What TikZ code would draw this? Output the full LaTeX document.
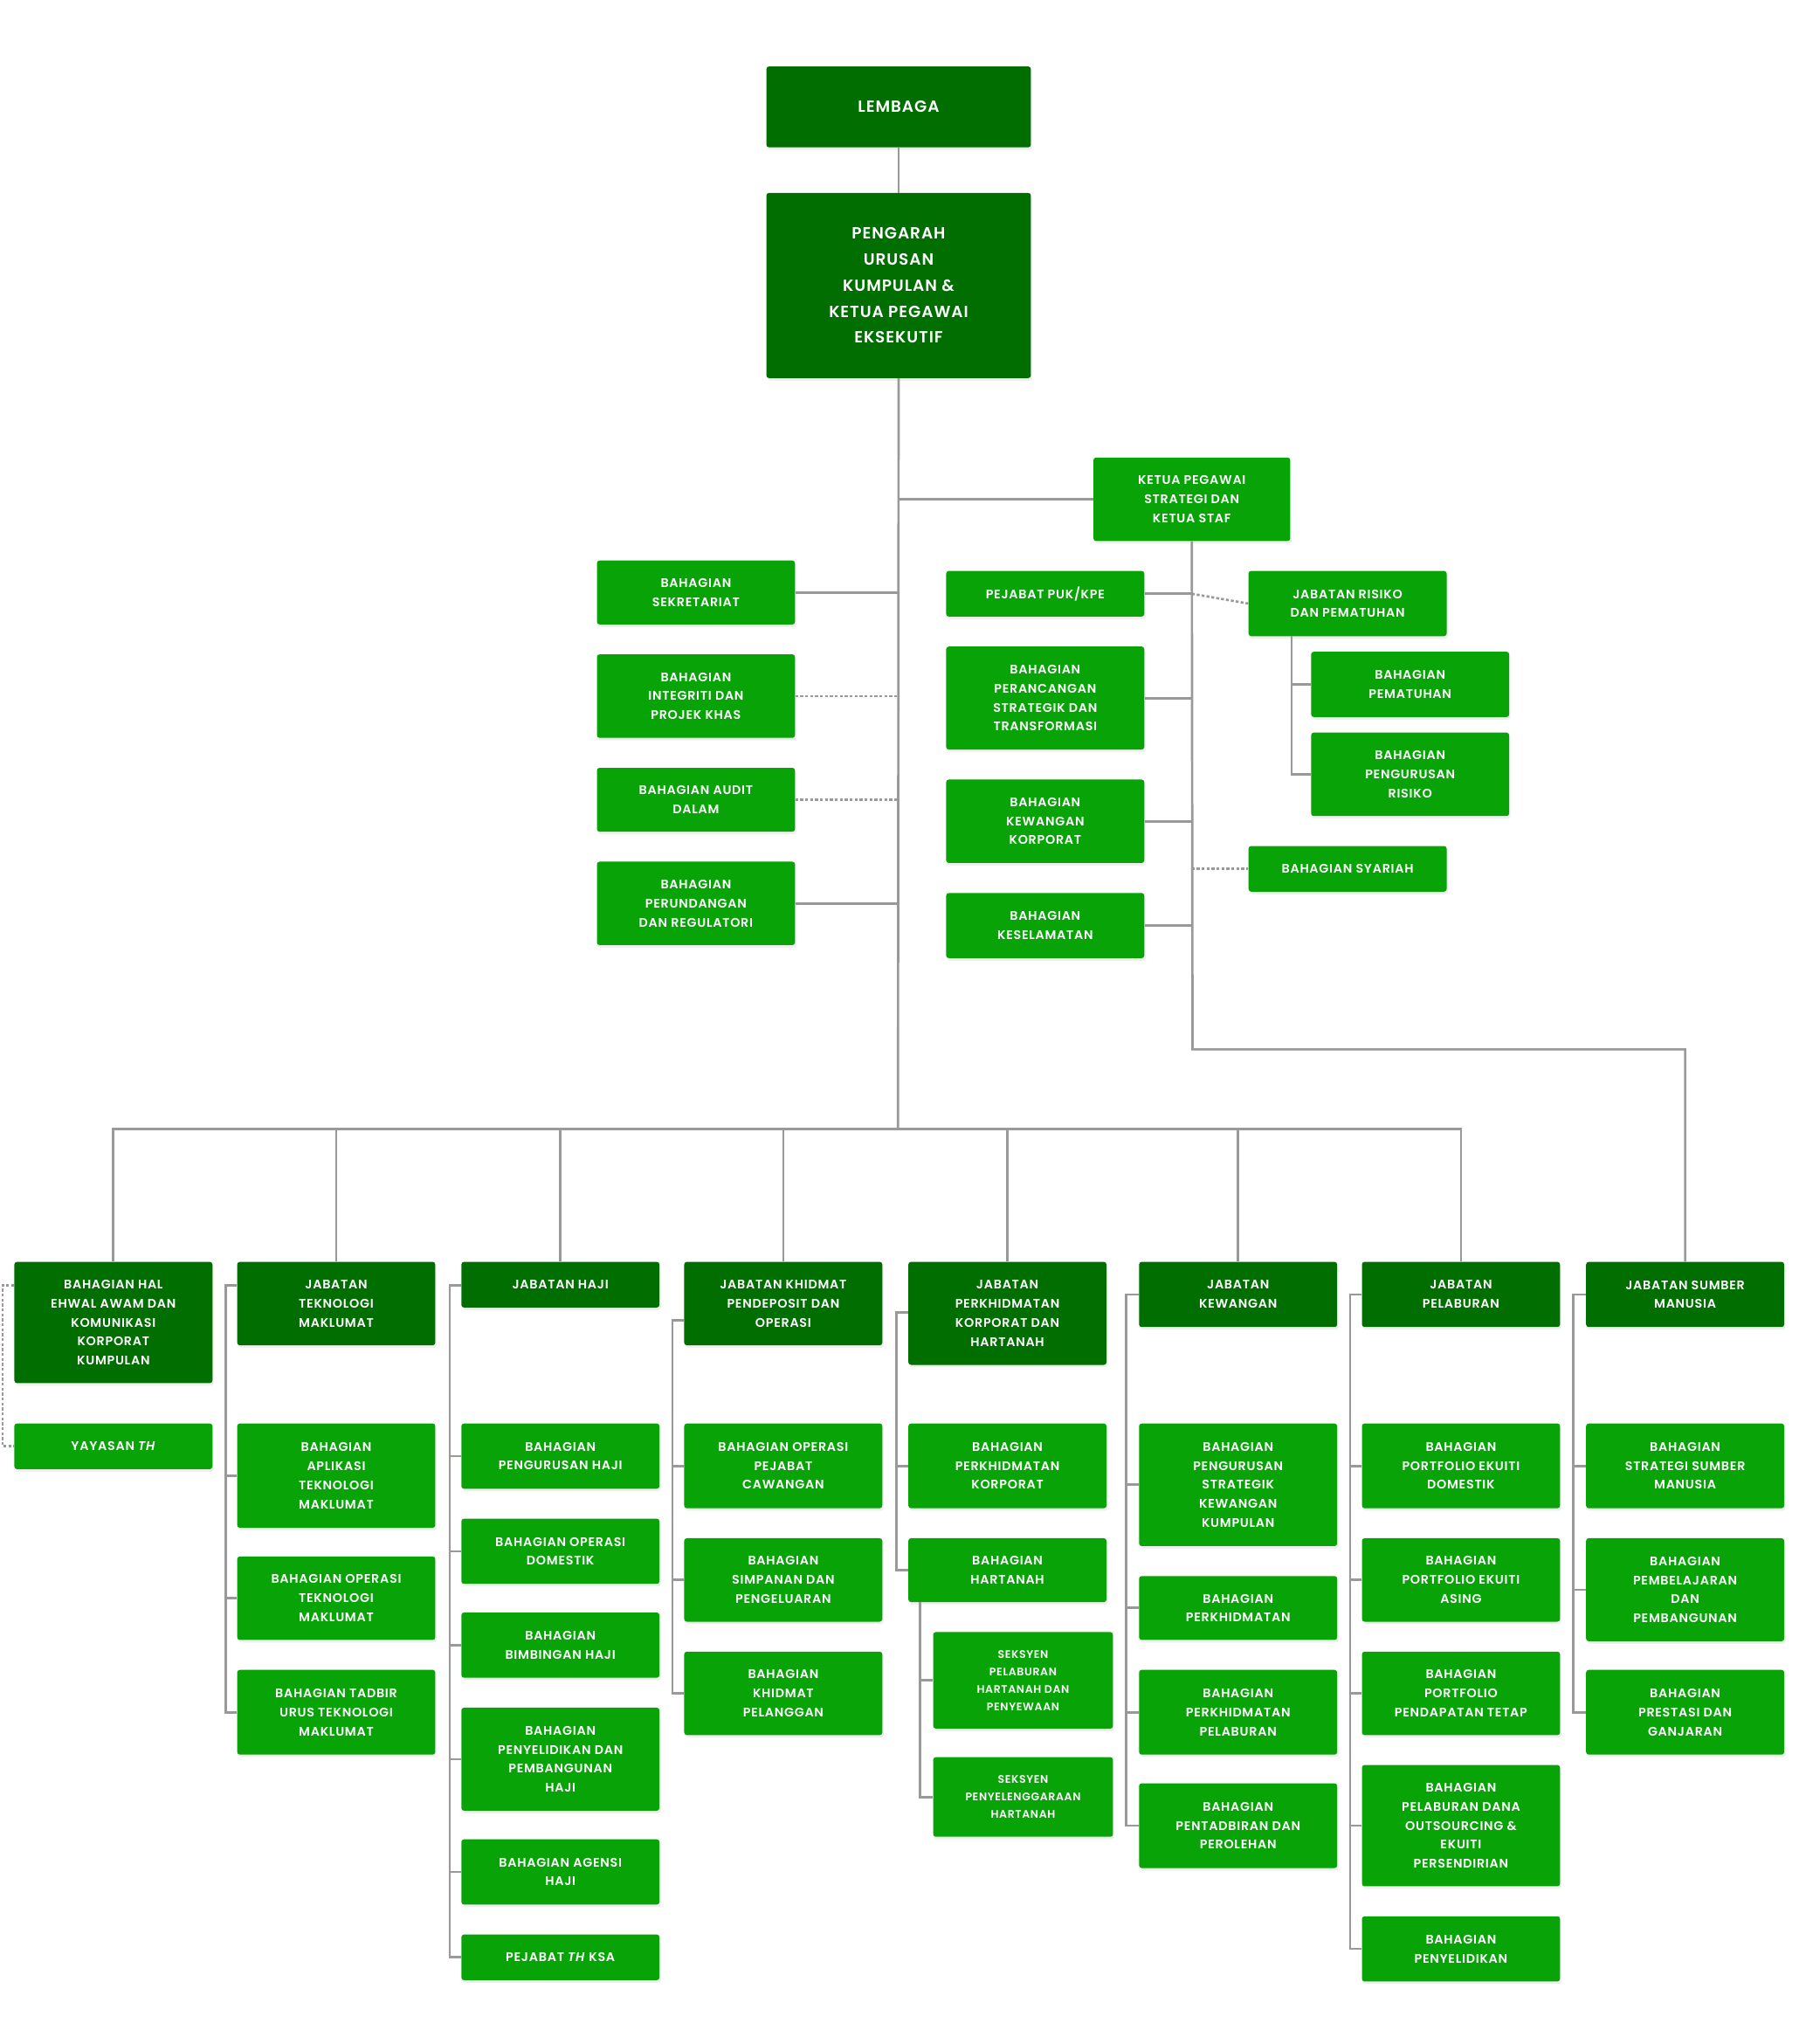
\documentclass[tikz,border=0pt]{standalone}
\usepackage{fontspec}
\setmainfont{Poppins}[BoldFont={* SemiBold},LetterSpace=5]
\usetikzlibrary{shadows}
\definecolor{dk}{HTML}{006E00}
\definecolor{lt}{HTML}{07A307}
\definecolor{ln}{HTML}{999999}
\tikzset{
 bx/.style={rounded corners=2pt,text=white,align=center,inner sep=0pt,font=\bfseries\fontsize{9.6}{14.6}\selectfont,drop shadow={opacity=0.12,shadow xshift=1pt,shadow yshift=-2pt}},
 dkb/.style={bx,fill=dk},
 ltb/.style={bx,fill=lt},
 big/.style={font=\bfseries\fontsize{12.4}{20}\selectfont},
 sm/.style={font=\bfseries\fontsize{8.4}{13.4}\selectfont},
 con/.style={draw=ln,line width=1.8pt},
 dot/.style={draw=ln,line width=1.8pt,dash pattern=on 2.2pt off 1.6pt},
}
\newcommand{\bx}[7]{\node[#1,minimum width=#5pt-#3pt,minimum height=#6pt-#4pt] (#2) at ({(#3+#5)/2},{(#4+#6)/2}) {#7};}
\begin{document}
\begin{tikzpicture}[x=1pt,y=-1pt]
\useasboundingbox[fill=white] (0,0) rectangle (1380,1568);
% top
\bx{dkb,big}{lem}{588}{51}{791}{113}{LEMBAGA}
\bx{dkb,big}{pg}{588}{148}{791}{290}{PENGARAH\\URUSAN\\KUMPULAN \&\\KETUA PEGAWAI\\EKSEKUTIF}
\bx{ltb}{kps}{839}{351}{990}{415}{KETUA PEGAWAI\\STRATEGI DAN\\KETUA STAF}
% left column
\bx{ltb}{sek}{458}{430}{610}{479}{BAHAGIAN\\SEKRETARIAT}
\bx{ltb}{int}{458}{502}{610}{566}{BAHAGIAN\\INTEGRITI DAN\\PROJEK KHAS}
\bx{ltb}{aud}{458}{589}{610}{638}{BAHAGIAN AUDIT\\DALAM}
\bx{ltb}{per}{458}{661}{610}{725}{BAHAGIAN\\PERUNDANGAN\\DAN REGULATORI}
% middle column
\bx{ltb}{puk}{726}{438}{878}{473}{PEJABAT PUK/KPE}
\bx{ltb}{pst}{726}{496}{878}{575}{BAHAGIAN\\PERANCANGAN\\STRATEGIK DAN\\TRANSFORMASI}
\bx{ltb}{kwk}{726}{598}{878}{662}{BAHAGIAN\\KEWANGAN\\KORPORAT}
\bx{ltb}{kes}{726}{685}{878}{735}{BAHAGIAN\\KESELAMATAN}
% right
\bx{ltb}{jrp}{958}{438}{1110}{488}{JABATAN RISIKO\\DAN PEMATUHAN}
\bx{ltb}{sya}{958}{649}{1110}{684}{BAHAGIAN SYARIAH}
\bx{ltb}{pem}{1006}{500}{1158}{550}{BAHAGIAN\\PEMATUHAN}
\bx{ltb}{pri}{1006}{562}{1158}{626}{BAHAGIAN\\PENGURUSAN\\RISIKO}
% heads
\bx{dkb}{h1}{11}{968}{163}{1061}{BAHAGIAN HAL\\EHWAL AWAM DAN\\KOMUNIKASI\\KORPORAT\\KUMPULAN}
\bx{dkb}{h2}{182}{968}{334}{1032}{JABATAN\\TEKNOLOGI\\MAKLUMAT}
\bx{dkb}{h3}{354}{968}{506}{1003}{JABATAN HAJI}
\bx{dkb}{h4}{525}{968}{677}{1032}{JABATAN KHIDMAT\\PENDEPOSIT DAN\\OPERASI}
\bx{dkb}{h5}{697}{968}{849}{1047}{JABATAN\\PERKHIDMATAN\\KORPORAT DAN\\HARTANAH}
\bx{dkb}{h6}{874}{968}{1026}{1018}{JABATAN\\KEWANGAN}
\bx{dkb}{h7}{1045}{968}{1197}{1018}{JABATAN\\PELABURAN}
\bx{dkb}{h8}{1217}{968}{1369}{1018}{JABATAN SUMBER\\MANUSIA}
% children
\bx{ltb}{c11}{11}{1092}{163}{1127}{YAYASAN \textit{TH}}
\bx{ltb}{c21}{182}{1092}{334}{1172}{BAHAGIAN\\APLIKASI\\TEKNOLOGI\\MAKLUMAT}
\bx{ltb}{c22}{182}{1194}{334}{1258}{BAHAGIAN OPERASI\\TEKNOLOGI\\MAKLUMAT}
\bx{ltb}{c23}{182}{1281}{334}{1346}{BAHAGIAN TADBIR\\URUS TEKNOLOGI\\MAKLUMAT}
\bx{ltb}{c31}{354}{1092}{506}{1142}{BAHAGIAN\\PENGURUSAN HAJI}
\bx{ltb}{c32}{354}{1165}{506}{1215}{BAHAGIAN OPERASI\\DOMESTIK}
\bx{ltb}{c33}{354}{1237}{506}{1287}{BAHAGIAN\\BIMBINGAN HAJI}
\bx{ltb}{c34}{354}{1310}{506}{1389}{BAHAGIAN\\PENYELIDIKAN DAN\\PEMBANGUNAN\\HAJI}
\bx{ltb}{c35}{354}{1411}{506}{1461}{BAHAGIAN AGENSI\\HAJI}
\bx{ltb}{c36}{354}{1484}{506}{1519}{PEJABAT \textit{TH} KSA}
\bx{ltb}{c41}{525}{1092}{677}{1157}{BAHAGIAN OPERASI\\PEJABAT\\CAWANGAN}
\bx{ltb}{c42}{525}{1180}{677}{1244}{BAHAGIAN\\SIMPANAN DAN\\PENGELUARAN}
\bx{ltb}{c43}{525}{1267}{677}{1331}{BAHAGIAN\\KHIDMAT\\PELANGGAN}
\bx{ltb}{c51}{697}{1092}{849}{1157}{BAHAGIAN\\PERKHIDMATAN\\KORPORAT}
\bx{ltb}{c52}{697}{1180}{849}{1229}{BAHAGIAN\\HARTANAH}
\bx{ltb,sm}{c53}{716}{1252}{854}{1326}{SEKSYEN\\PELABURAN\\HARTANAH DAN\\PENYEWAAN}
\bx{ltb,sm}{c54}{716}{1348}{854}{1409}{SEKSYEN\\PENYELENGGARAAN\\HARTANAH}
\bx{ltb}{c61}{874}{1092}{1026}{1186}{BAHAGIAN\\PENGURUSAN\\STRATEGIK\\KEWANGAN\\KUMPULAN}
\bx{ltb}{c62}{874}{1209}{1026}{1258}{BAHAGIAN\\PERKHIDMATAN}
\bx{ltb}{c63}{874}{1281}{1026}{1346}{BAHAGIAN\\PERKHIDMATAN\\PELABURAN}
\bx{ltb}{c64}{874}{1368}{1026}{1433}{BAHAGIAN\\PENTADBIRAN DAN\\PEROLEHAN}
\bx{ltb}{c71}{1045}{1092}{1197}{1157}{BAHAGIAN\\PORTFOLIO EKUITI\\DOMESTIK}
\bx{ltb}{c72}{1045}{1180}{1197}{1244}{BAHAGIAN\\PORTFOLIO EKUITI\\ASING}
\bx{ltb}{c73}{1045}{1267}{1197}{1331}{BAHAGIAN\\PORTFOLIO\\PENDAPATAN TETAP}
\bx{ltb}{c74}{1045}{1354}{1197}{1447}{BAHAGIAN\\PELABURAN DANA\\OUTSOURCING \&\\EKUITI\\PERSENDIRIAN}
\bx{ltb}{c75}{1045}{1470}{1197}{1520}{BAHAGIAN\\PENYELIDIKAN}
\bx{ltb}{c81}{1217}{1092}{1369}{1157}{BAHAGIAN\\STRATEGI SUMBER\\MANUSIA}
\bx{ltb}{c82}{1217}{1180}{1369}{1259}{BAHAGIAN\\PEMBELAJARAN\\DAN\\PEMBANGUNAN}
\bx{ltb}{c83}{1217}{1281}{1369}{1346}{BAHAGIAN\\PRESTASI DAN\\GANJARAN}
% connectors
\begin{scope}[on background layer/.style={}]
\coordinate (bus) at (689,866);
\coordinate (sp) at (915,805);
\coordinate (rr) at (991,488);
\end{scope}
\path[con] (lem.south) -- (pg.north);
\path[con] (pg.south) -- (bus);
\path[con] (kps.west) -- (kps.west -| pg.south);
\path[con] (sek.east) -- (sek.east -| pg.south);
\path[dot] (int.east) -- (int.east -| pg.south);
\path[dot] (aud.east) -- (aud.east -| pg.south);
\path[con] (per.east) -- (per.east -| pg.south);
\path[con] (kps.south) -- (sp) -| (h8.north);
\path[con] (puk.east) -- (puk.east -| kps.south);
\path[dot] (puk.east -| kps.south) -- (jrp.west);
\path[con] (pst.east) -- (pst.east -| kps.south);
\path[con] (kwk.east) -- (kwk.east -| kps.south);
\path[con] (kes.east) -- (kes.east -| kps.south);
\path[dot] (sya.west -| kps.south) -- (sya.west);
\path[con] (rr) |- (pem.west);
\path[con] (rr) |- (pri.west);
\foreach \h in {h1,h2,h3,h4,h5,h6,h7} {\path[con] (\h.north) |- (bus);}
% rails
\coordinate (r1) at (2,986);
\path[dot] (h1.west |- r1) -- (r1) |- (c11.west);
\coordinate (r2) at (173,986);
\path[con] (h2.west |- r2) -- (r2) |- (c23.west); \path[con] (r2) |- (c21.west); \path[con] (r2) |- (c22.west);
\coordinate (r3) at (345,986);
\path[con] (h3.west |- r3) -- (r3) |- (c36.west);
\foreach \c in {c31,c32,c33,c34,c35} {\path[con] (r3) |- (\c.west);}
\coordinate (r4) at (516,1013);
\path[con] (h4.west |- r4) -- (r4) |- (c43.west);
\foreach \c in {c41,c42} {\path[con] (r4) |- (\c.west);}
\coordinate (r5) at (688,1007);
\path[con] (h5.west |- r5) -- (r5) |- (c52.west); \path[con] (r5) |- (c51.west);
\coordinate (r5b) at (706,1229);
\path[con] (r5b) |- (c54.west); \path[con] (r5b) |- (c53.west);
\coordinate (r6) at (864,993);
\path[con] (h6.west |- r6) -- (r6) |- (c64.west);
\foreach \c in {c61,c62,c63} {\path[con] (r6) |- (\c.west);}
\coordinate (r7) at (1036,993);
\path[con] (h7.west |- r7) -- (r7) |- (c75.west);
\foreach \c in {c71,c72,c73,c74} {\path[con] (r7) |- (\c.west);}
\coordinate (r8) at (1207,993);
\path[con] (h8.west |- r8) -- (r8) |- (c83.west);
\foreach \c in {c81,c82} {\path[con] (r8) |- (\c.west);}
\end{tikzpicture}
\end{document}
